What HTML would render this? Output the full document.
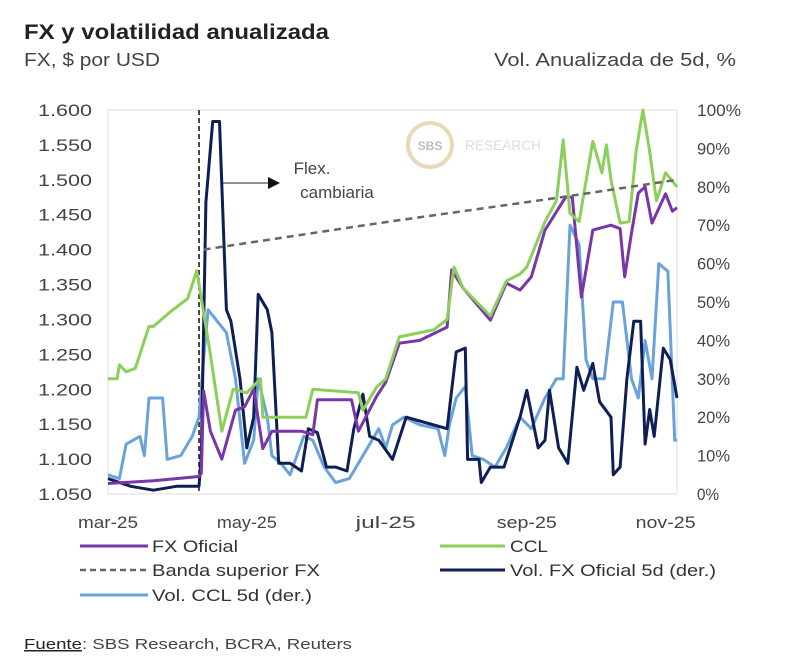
<!DOCTYPE html>
<html><head><meta charset="utf-8"><style>
body{margin:0;background:#fff;}
svg{display:block;font-family:"Liberation Sans",sans-serif;}
</style></head><body>
<svg id="chart" width="800" height="661" viewBox="0 0 800 661" xmlns="http://www.w3.org/2000/svg">
<rect width="800" height="661" fill="#fff"/>
<text x="24" y="39" font-size="21" font-weight="bold" fill="#222" textLength="305" lengthAdjust="spacingAndGlyphs">FX y volatilidad anualizada</text>
<text x="24" y="66" font-size="18" fill="#444" textLength="136" lengthAdjust="spacingAndGlyphs">FX, $ por USD</text>
<text x="736" y="66" font-size="18" fill="#444" text-anchor="end" textLength="242" lengthAdjust="spacingAndGlyphs">Vol. Anualizada de 5d, %</text>
<rect x="108" y="110" width="569" height="384" fill="none" stroke="#ddd" stroke-width="1"/>
<g>
<circle cx="430" cy="145" r="22" fill="none" stroke="#e8d9b8" stroke-width="4"/>
<text x="430" y="150" font-size="12" font-weight="bold" fill="#bbb" text-anchor="middle">SBS</text>
<text x="465" y="150" font-size="14" fill="#ddd" textLength="76" lengthAdjust="spacingAndGlyphs">RESEARCH</text>
</g>
<g id="ticks"></g>
<g id="series"></g>
<g>
<line x1="222" y1="183" x2="268" y2="183" stroke="#222" stroke-width="1"/>
<polygon points="268,177 280,183 268,189" fill="#111"/>
<text x="312" y="174" font-size="17" fill="#444" text-anchor="middle">Flex.</text>
<text x="337" y="198" font-size="17" fill="#444" text-anchor="middle">cambiaria</text>
</g>
<g id="legend">
<line x1="80" y1="546" x2="148" y2="546" stroke="#7a35a8" stroke-width="3"/>
<text x="152" y="552" font-size="17" fill="#333" textLength="86" lengthAdjust="spacingAndGlyphs">FX Oficial</text>
<line x1="440" y1="546" x2="505" y2="546" stroke="#8ccf5a" stroke-width="3"/>
<text x="510" y="552" font-size="17" fill="#333" textLength="38" lengthAdjust="spacingAndGlyphs">CCL</text>
<line x1="80" y1="570" x2="148" y2="570" stroke="#666" stroke-width="2.5" stroke-dasharray="6,4"/>
<text x="152" y="576" font-size="17" fill="#333" textLength="168" lengthAdjust="spacingAndGlyphs">Banda superior FX</text>
<line x1="440" y1="570" x2="505" y2="570" stroke="#0f1f55" stroke-width="3"/>
<text x="510" y="576" font-size="17" fill="#333" textLength="206" lengthAdjust="spacingAndGlyphs">Vol. FX Oficial 5d (der.)</text>
<line x1="80" y1="595" x2="148" y2="595" stroke="#6aa3d9" stroke-width="3"/>
<text x="152" y="601" font-size="17" fill="#333" textLength="160" lengthAdjust="spacingAndGlyphs">Vol. CCL 5d (der.)</text>
</g>
<text x="24" y="649" font-size="15" fill="#444" textLength="328" lengthAdjust="spacingAndGlyphs"><tspan text-decoration="underline" fill="#222">Fuente</tspan>: SBS Research, BCRA, Reuters</text>
</svg>
<script>
const leftTicks=["1.050","1.100","1.150","1.200","1.250","1.300","1.350","1.400","1.450","1.500","1.550","1.600"];
const leftTickValues=[1050,1100,1150,1200,1250,1300,1350,1400,1450,1500,1550,1600];
const rightTicks=["0%","10%","20%","30%","40%","50%","60%","70%","80%","90%","100%"];
const rightTickValues=[0,10,20,30,40,50,60,70,80,90,100];
const monthLabels=["mar-25","may-25","jul-25","sep-25","nov-25"];
const monthDays=[0,61,122,184,245];
const flexDay=40;
const oficialDays=[0,10,20,30,40,41,42,45,50,56,60,64,68,72,85,90,92,107,110,118,122,128,137,149,151,156,168,175,181,186,192,201,204,208,213,221,225,227,230,233,236,239,245,248,250];
const oficialVals=[1065,1067,1069,1072,1075,1080,1198,1140,1100,1170,1175,1200,1115,1140,1140,1135,1185,1185,1140,1190,1210,1266,1270,1289,1371,1345,1299,1352,1342,1361,1428,1475,1475,1332,1428,1435,1430,1361,1424,1481,1490,1438,1480,1455,1460];
const cclDays=[0,4,5,8,12,18,20,27,35,39,41,45,50,55,61,67,68,87,90,110,112,118,122,128,143,149,152,156,168,175,181,184,192,197,200,203,207,213,217,219,221,225,229,232,235,238,241,245,250];
const cclVals=[1215,1215,1235,1225,1230,1290,1290,1310,1330,1370,1330,1250,1140,1200,1195,1215,1160,1160,1200,1195,1170,1203,1215,1275,1285,1300,1375,1345,1305,1355,1365,1375,1440,1470,1557,1452,1440,1555,1510,1550,1500,1438,1440,1540,1600,1540,1470,1510,1490];
const bandDays=[42,119,199,250];
const bandVals=[1400,1438,1475,1500];
const volFxDays=[0,10,20,30,40,41,43,46,49,52,54,58,61,64,66,70,72,75,80,85,88,92,96,100,105,108,112,115,119,125,131,137,149,153,157,158,163,164,168,174,181,184,189,192,194,198,202,206,209,213,216,221,222,225,228,231,234,236,238,240,244,247,250];
const volFxVals=[4,2,1,2,2,10,76,97,97,48,45,30,12,20,52,48,42,8,8,6,17,16,7,7,6,17,26,15,14,9,20,19,17,37,38,9,9,3,7,7,20,27,12,14,27,12,8,33,27,34,24,20,5,7,30,45,45,13,22,15,38,35,25];
const volCclDays=[0,5,8,14,16,18,24,26,32,37,40,42,44,48,52,56,60,64,66,70,72,76,80,86,90,95,100,106,110,115,119,122,125,130,137,145,148,150,153,157,160,165,170,175,181,186,192,197,200,203,207,210,213,218,222,226,230,233,236,239,242,246,249,250];
const volCclVals=[5,4,13,15,10,25,25,9,10,15,20,35,48,45,42,30,8,14,30,20,10,8,5,15,14,7,3,4,8,13,17,12,18,20,18,17,10,18,25,28,10,9,7,12,20,17,25,30,30,70,65,35,30,30,50,50,30,25,40,30,60,58,14,14];

const X0=108,X1=677,YT=110,YB=494,D0=0,D1=250;
const xs=d=>X0+(d-D0)/(D1-D0)*(X1-X0);
const yL=v=>YB-(v-1050)/(1600-1050)*(YB-YT);
const yR=v=>YB-v/100*(YB-YT);
const NS="http://www.w3.org/2000/svg";
function mk(tag,attrs,parent,txt){const e=document.createElementNS(NS,tag);for(const k in attrs)e.setAttribute(k,attrs[k]);if(txt!==undefined)e.textContent=txt;parent.appendChild(e);return e;}
const ticks=document.getElementById('ticks');
leftTickValues.forEach((v,i)=>{const t=mk('text',{x:92,y:yL(v)+6,'font-size':17,fill:'#444','text-anchor':'end',textLength:54,lengthAdjust:'spacingAndGlyphs'},ticks,leftTicks[i]);

});
rightTickValues.forEach((v,i)=>{const t=mk('text',{x:697,y:yR(v)+6,'font-size':17,fill:'#444',textLength:rightTicks[i].length*11,lengthAdjust:'spacingAndGlyphs'},ticks,rightTicks[i]);

});
monthDays.forEach((d,i)=>{const t=mk('text',{x:xs(d),y:528,'font-size':17,fill:'#444','text-anchor':'middle',textLength:60,lengthAdjust:'spacingAndGlyphs'},ticks,monthLabels[i]);

});
const sg=document.getElementById('series');
const fl=mk('line',{x1:xs(flexDay),y1:YT,x2:xs(flexDay),y2:YB,stroke:'#111','stroke-width':1.5,'stroke-dasharray':'5,3'},sg);


function line(days,vals,ys,color,w,dash,name){const p=days.map((d,i)=>xs(d).toFixed(1)+','+ys(vals[i]).toFixed(1)).join(' ');
const a={points:p,fill:'none',stroke:color,'stroke-width':w,'stroke-linejoin':'round'};if(dash)a['stroke-dasharray']=dash;
const e=mk('polyline',a,sg);

}
line(volCclDays,volCclVals,yR,'#6aa3d9',3,null,'vol-ccl-line');
line(volFxDays,volFxVals,yR,'#0f1f55',3,null,'vol-fx-oficial-line');
line(oficialDays,oficialVals,yL,'#7a35a8',3,null,'fx-oficial-line');
line(cclDays,cclVals,yL,'#8ccf5a',3,null,'ccl-line');
line(bandDays,bandVals,yL,'#666',2.5,'7,5','banda-superior-line');
</script>
</body></html>
